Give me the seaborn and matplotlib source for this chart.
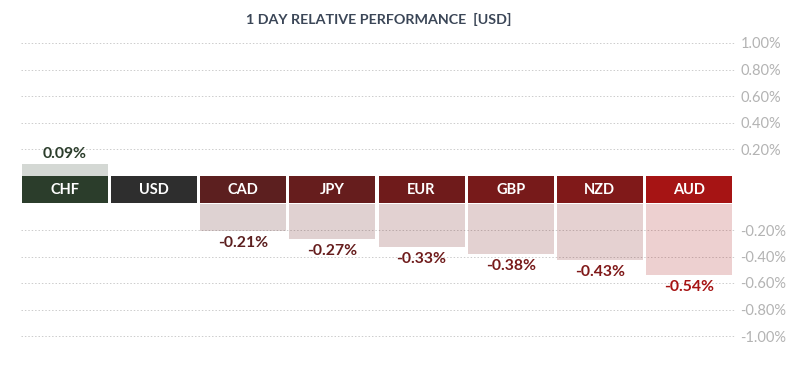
import numpy as np
import pandas as pd
import matplotlib
matplotlib.use('Agg')
import matplotlib.pyplot as plt
import seaborn as sns

# data
currencies = ['CHF', 'USD', 'CAD', 'JPY', 'EUR', 'GBP', 'NZD', 'AUD']
change = [0.09, 0.0, -0.21, -0.27, -0.33, -0.38, -0.43, -0.54]
labels = ['0.09%', '', '-0.21%', '-0.27%', '-0.33%', '-0.38%', '-0.43%', '-0.54%']
pos_ticks = [0.2, 0.4, 0.6, 0.8, 1.0]
neg_ticks = [-1.0, -0.8, -0.6, -0.4, -0.2]
colors = ['#2b3d2b', '#2e2e2e', '#5c1f1f', '#661d1d', '#6f1b1b', '#771a1a', '#801919', '#a61414']

sns.set_style('white')
plt.rcParams['font.family'] = ['Lato', 'DejaVu Sans']

df = pd.DataFrame({'cur': currencies, 'chg': change})
df['pos'] = np.clip(df['chg'], 0, None)
df['neg'] = np.clip(df['chg'], None, 0)
df['band'] = 1
pal = dict(zip(currencies, colors))

fig = plt.figure(figsize=(8, 3.86), dpi=100)
left, width = 20.5 / 800, 713 / 800
ax_top = fig.add_axes([left, 1 - 176 / 386, width, 133 / 386])
ax_band = fig.add_axes([left, 1 - 203 / 386, width, 27 / 386])
ax_bot = fig.add_axes([left, 1 - 336 / 386, width, 132.5 / 386])

bw = 0.966
sns.barplot(data=df, x='cur', y='pos', hue='cur', palette=pal, alpha=0.2, linewidth=0,
            width=bw, legend=False, ax=ax_top, saturation=1)
sns.barplot(data=df, x='cur', y='band', hue='cur', palette=pal, linewidth=0,
            width=bw, legend=False, ax=ax_band, saturation=1)
sns.barplot(data=df, x='cur', y='neg', hue='cur', palette=pal, alpha=0.2, linewidth=0,
            width=bw, legend=False, ax=ax_bot, saturation=1)

ax_top.set_ylim(0, 1.0)
ax_bot.set_ylim(-1.0, 0)
ax_band.set_ylim(0, 1)

for ax in (ax_top, ax_band, ax_bot):
    ax.set_xlim(-0.5, len(currencies) - 0.5)
    ax.set_xlabel('')
    ax.set_ylabel('')
    ax.set_xticks([])
    sns.despine(ax=ax, left=True, bottom=True, right=True, top=True)
ax_band.set_yticks([])

for ax, ticks in ((ax_top, pos_ticks), (ax_bot, neg_ticks)):
    ax.set_yticks(ticks)
    ax.set_yticklabels([f'{t:.2f}%' for t in ticks])
    ax.yaxis.tick_right()
    ax.tick_params(axis='y', length=0, pad=5, labelsize=10.5, labelcolor='#b3b3b3')
    ax.grid(axis='y', color='#cccccc', linestyle=(0, (1.5, 2)), linewidth=0.7)
    ax.grid(axis='x', visible=False)
    for gl in ax.get_ygridlines():
        gl.set_clip_on(False)

for i, cur in enumerate(currencies):
    ax_band.text(i, 0.5, cur, ha='center', va='center', color='white',
                 fontsize=10.5, fontweight='bold')
    v = change[i]
    if v > 0:
        ax_top.annotate(labels[i], (i, v), xytext=(0, 7.5), textcoords='offset points',
                        ha='center', va='center', color=colors[i], fontsize=11.3, fontweight='bold')
    elif v < 0:
        ax_bot.annotate(labels[i], (i, v), xytext=(0, -8.5), textcoords='offset points',
                        ha='center', va='center', color=colors[i], fontsize=11.3, fontweight='bold')

fig.text(379 / 800, 1 - 19 / 386, '1 DAY RELATIVE PERFORMANCE  [USD]', ha='center', va='center',
         color='#3b4657', fontsize=10.3, fontweight='bold')

fig.savefig('out.png', dpi=100)
